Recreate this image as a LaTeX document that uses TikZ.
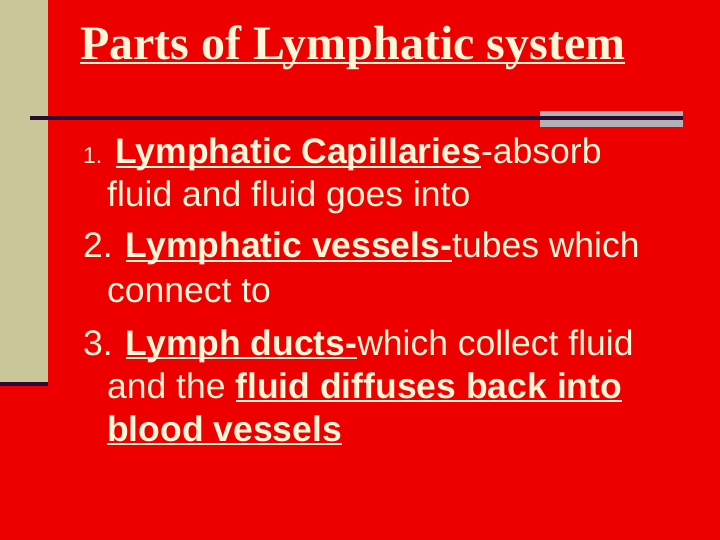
\documentclass[tikz,border=0pt]{standalone}
\usepackage{fontspec}
\setmainfont{Liberation Sans}
\newfontfamily\titlefont{Liberation Serif}
\definecolor{bg}{HTML}{EE0000}
\definecolor{strip}{HTML}{C9C79A}
\definecolor{txt}{HTML}{FFF5D7}
\definecolor{dark}{HTML}{2A0A30}
\definecolor{bar}{HTML}{B4B0B8}
\newcommand\myul[1]{\setbox0\hbox{#1}\rlap{\rule[-4pt]{\wd0}{2.4pt}}\box0}
\tikzset{ln/.style={anchor=base west,inner sep=0pt,text=txt,font=\fontsize{35.5}{40}\selectfont}}
\begin{document}
\begin{tikzpicture}[x=1pt,y=-1pt]
\useasboundingbox (0,0) rectangle (720,540);
\fill[bg] (0,0) rectangle (720,540);
\fill[strip] (0,0) rectangle (48,382);
\fill[dark] (0,382) rectangle (48,386);
\fill[bar] (540,111) rectangle (683,127);
\fill[dark] (30,116) rectangle (683,120);
\node[ln,font=\titlefont\bfseries\fontsize{48}{52}\selectfont] (t) at (80,60) {\myul{Parts of Lymphatic system}};
\node[ln] (l1) at (83,164) {{\fontsize{23}{24}\selectfont 1.} \myul{\textbf{Lymphatic Capillaries}} -absorb};
\node[ln] (l2) at (107,207) {fluid and fluid goes into};
\node[ln] (l3) at (83,258) {2. \myul{\textbf{Lymphatic vessels-}}tubes which};
\node[ln] (l4) at (107,302) {connect to};
\node[ln] (l5) at (83,355) {3. \myul{\textbf{Lymph ducts-}} which collect fluid};
\node[ln] (l6) at (107,398) {and the \myul{\textbf{fluid diffuses back into}}};
\node[ln] (l7) at (107,441) {\myul{\textbf{blood vessels}}};
\end{tikzpicture}
\end{document}
